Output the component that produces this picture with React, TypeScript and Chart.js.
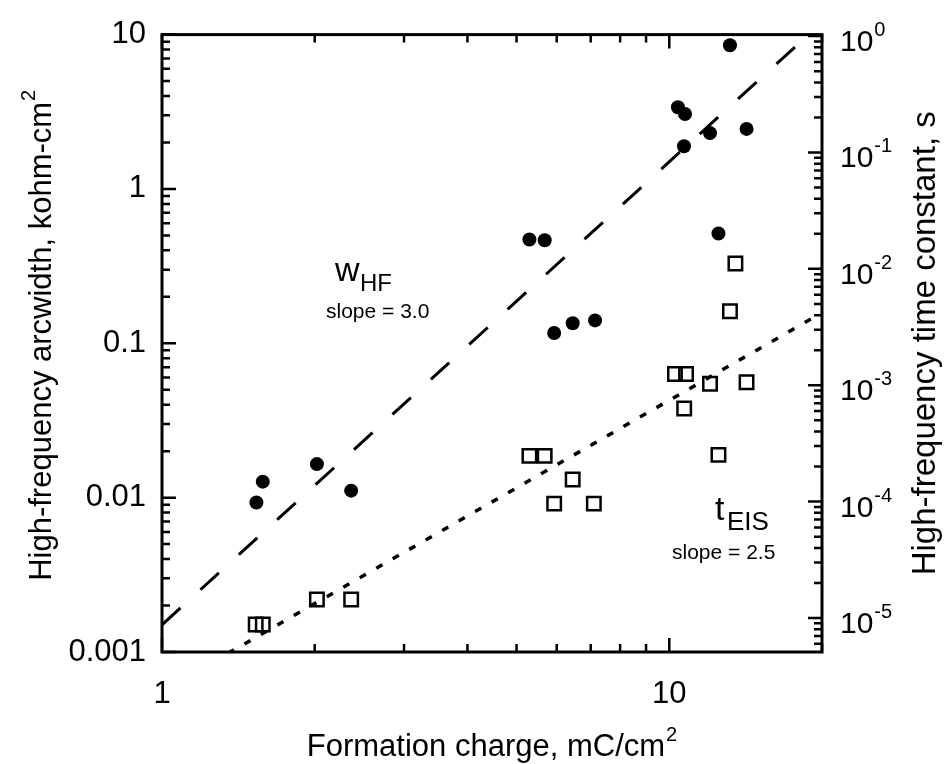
import React, { useEffect, useRef } from 'react';
import { Chart, registerables } from 'chart.js';

Chart.register(...registerables);

// ---- data ----
// high-frequency arcwidth w_HF (left axis, kohm-cm^2)
const chargeW = [1.535, 1.58, 2.02, 2.36, 5.3, 5.68, 5.93, 6.45, 7.14, 10.4, 10.74, 10.69, 12.03, 12.5, 13.17, 14.2];
const arcWidth = [0.0093, 0.0127, 0.0165, 0.0111, 0.47, 0.465, 0.1165, 0.135, 0.1407, 3.38, 3.06, 1.89, 2.3, 0.515, 8.53, 2.45];
// high-frequency time constant t_EIS (right axis, s)
const chargeT = [1.53, 1.58, 2.02, 2.36, 5.3, 5.68, 5.93, 6.45, 7.1, 10.26, 10.79, 10.7, 12.03, 12.5, 13.17, 13.5, 14.2];
const timeConst = [8.8e-6, 8.8e-6, 1.44e-5, 1.44e-5, 2.47e-4, 2.47e-4, 9.6e-5, 1.55e-4, 9.6e-5, 1.25e-3, 1.25e-3, 6.3e-4, 1.03e-3, 2.52e-4, 4.32e-3, 1.11e-2, 1.06e-3];
// power-law fits (end points)
const fitCharge = [1, 20];
const fitW = [0.0015, 12.0]; // slope = 3.0
const fitT = [2.35e-6, 4.2e-3]; // slope = 2.5

// ---- axes ----
const xRange = [1, 20];
const yRange = [0.001, 10];
const y2Range = [5.1e-6, 1.03];
const xTickLabels = ['1', '10'];
const yTickLabels = ['0.001', '0.01', '0.1', '1', '10'];
const y2TickExps = ['-5', '-4', '-3', '-2', '-1', '0'];

const FONT = '"Liberation Sans", Arial, Helvetica, sans-serif';

function logTicks(min: number, max: number) {
  const out: { v: number; major: boolean }[] = [];
  const e0 = Math.floor(Math.log10(min));
  const e1 = Math.ceil(Math.log10(max));
  for (let e = e0; e <= e1; e++) {
    for (let m = 1; m <= 9; m++) {
      const v = m * Math.pow(10, e);
      if (v >= min * 0.9999 && v <= max * 1.0001) out.push({ v, major: m === 1 });
    }
  }
  return out;
}

function isPow10(v: number) {
  const l = Math.log10(v);
  return Math.abs(l - Math.round(l)) < 1e-6;
}

function textWithSup(ctx: CanvasRenderingContext2D, base: string, sup: string, x: number, y: number, size: number, supSize: number, rise: number, align: 'center' | 'left') {
  ctx.font = `${size}px ${FONT}`;
  const wb = ctx.measureText(base).width;
  ctx.font = `${supSize}px ${FONT}`;
  const ws = ctx.measureText(sup).width;
  const start = align === 'center' ? x - (wb + ws + 1) / 2 : x;
  ctx.textAlign = 'left';
  ctx.textBaseline = 'alphabetic';
  ctx.font = `${size}px ${FONT}`;
  ctx.fillText(base, start, y);
  ctx.font = `${supSize}px ${FONT}`;
  ctx.fillText(sup, start + wb + 1, y - rise);
}

const decorPlugin = {
  id: 'decor',
  afterDraw(chart: any) {
    const { ctx, chartArea: a, scales } = chart;
    const xs = scales.x, ys = scales.y, y2s = scales.y2;
    ctx.save();
    ctx.strokeStyle = '#000';
    ctx.fillStyle = '#000';
    ctx.lineCap = 'butt';
    const MAJ = 14, MIN = 8;
    ctx.lineWidth = 2.5;
    ctx.beginPath();
    for (const t of logTicks(xRange[0], xRange[1])) {
      const px = xs.getPixelForValue(t.v);
      const len = t.major ? MAJ : MIN;
      ctx.moveTo(px, a.bottom); ctx.lineTo(px, a.bottom - len);
      ctx.moveTo(px, a.top); ctx.lineTo(px, a.top + len);
    }
    for (const t of logTicks(yRange[0], yRange[1])) {
      const py = ys.getPixelForValue(t.v);
      const len = t.major ? MAJ : MIN;
      ctx.moveTo(a.left, py); ctx.lineTo(a.left + len, py);
    }
    for (const t of logTicks(y2Range[0], y2Range[1])) {
      const py = y2s.getPixelForValue(t.v);
      const len = t.major ? MAJ : MIN;
      ctx.moveTo(a.right, py); ctx.lineTo(a.right - len, py);
    }
    ctx.stroke();
    ctx.lineWidth = 3;
    ctx.strokeRect(a.left, a.top, a.right - a.left, a.bottom - a.top);

    // right tick labels 10^n
    y2TickExps.forEach((e) => {
      const py = y2s.getPixelForValue(Math.pow(10, Number(e)));
      textWithSup(ctx, '10', e, a.right + 18, py + 15, 30, 20, 15, 'left');
    });

    // axis titles
    textWithSup(ctx, 'Formation charge, mC/cm', '2', (a.left + a.right) / 2, 756, 31, 20, 15, 'center');
    ctx.save();
    ctx.translate(51, (a.top + a.bottom) / 2 - 8);
    ctx.rotate(-Math.PI / 2);
    textWithSup(ctx, 'High-frequency arcwidth, kohm-cm', '2', 0, 0, 31, 20, 16, 'center');
    ctx.restore();
    ctx.save();
    ctx.translate(935, (a.top + a.bottom) / 2);
    ctx.rotate(-Math.PI / 2);
    ctx.font = `33px ${FONT}`;
    ctx.textAlign = 'center';
    ctx.textBaseline = 'alphabetic';
    ctx.fillText('High-frequency time constant, s', 0, 0);
    ctx.restore();

    // annotations
    ctx.textAlign = 'left';
    ctx.textBaseline = 'alphabetic';
    ctx.font = `34px ${FONT}`;
    ctx.fillText('w', 335, 281);
    ctx.font = `24px ${FONT}`;
    ctx.fillText('HF', 360, 291);
    ctx.font = `21px ${FONT}`;
    ctx.fillText('slope = 3.0', 326, 318);
    ctx.font = `34px ${FONT}`;
    ctx.fillText('t', 715, 520);
    ctx.font = `26px ${FONT}`;
    ctx.fillText('EIS', 727, 530);
    ctx.font = `21px ${FONT}`;
    ctx.fillText('slope = 2.5', 672, 559);
    ctx.restore();
  },
};

export default function App() {
  const ref = useRef<HTMLCanvasElement>(null);
  useEffect(() => {
    if (!ref.current) return;
    const chart = new Chart(ref.current, {
      type: 'scatter',
      data: {
        datasets: [
          {
            label: 'w_HF',
            data: chargeW.map((x, i) => ({ x, y: arcWidth[i] })),
            yAxisID: 'y',
            pointStyle: 'circle',
            pointRadius: 7,
            pointBorderWidth: 0,
            backgroundColor: '#000',
            borderColor: '#000',
          },
          {
            label: 't_EIS',
            data: chargeT.map((x, i) => ({ x, y: timeConst[i] })),
            yAxisID: 'y2',
            pointStyle: 'rect',
            pointRadius: 9.5,
            pointBorderWidth: 2.5,
            backgroundColor: 'rgba(0,0,0,0)',
            borderColor: '#000',
          },
          {
            label: 'fit w',
            data: fitCharge.map((x, i) => ({ x, y: fitW[i] })),
            yAxisID: 'y',
            showLine: true,
            pointRadius: 0,
            borderColor: '#000',
            borderWidth: 3,
            borderDash: [25, 27],
            borderCapStyle: 'butt',
          },
          {
            label: 'fit t',
            data: fitCharge.map((x, i) => ({ x, y: fitT[i] })),
            yAxisID: 'y2',
            showLine: true,
            pointRadius: 0,
            borderColor: '#000',
            borderWidth: 3.5,
            borderDash: [7, 12],
            borderCapStyle: 'butt',
          },
        ],
      },
      options: {
        responsive: false,
        animation: false,
        layout: { padding: { top: 32, left: 0, right: 0, bottom: 0 } },
        plugins: { legend: { display: false }, tooltip: { enabled: false } },
        scales: {
          x: {
            type: 'logarithmic',
            min: xRange[0],
            max: xRange[1],
            grid: { display: false, drawTicks: false },
            border: { display: false },
            ticks: {
              autoSkip: false,
              maxRotation: 0,
              padding: 24,
              color: '#000',
              font: { family: FONT, size: 31 },
              callback: (v: any) => {
                const n = Number(v);
                if (!isPow10(n)) return '';
                return xTickLabels[Math.round(Math.log10(n))] ?? '';
              },
            },
            afterFit: (s: any) => { s.height = 112; },
          },
          y: {
            type: 'logarithmic',
            position: 'left',
            min: yRange[0],
            max: yRange[1],
            grid: { display: false, drawTicks: false },
            border: { display: false },
            ticks: {
              autoSkip: false,
              padding: 16,
              color: '#000',
              font: { family: FONT, size: 31 },
              callback: (v: any) => {
                const n = Number(v);
                if (!isPow10(n)) return '';
                return yTickLabels[Math.round(Math.log10(n)) + 3] ?? '';
              },
            },
            afterFit: (s: any) => { s.width = 162; },
          },
          y2: {
            type: 'logarithmic',
            position: 'right',
            min: y2Range[0],
            max: y2Range[1],
            grid: { display: false, drawTicks: false },
            border: { display: false },
            ticks: { display: false },
            afterFit: (s: any) => { s.width = 123; },
          },
        },
      },
      plugins: [decorPlugin],
    });
    return () => chart.destroy();
  }, []);
  return (
    <div style={{ position: 'absolute', left: 0, top: 0, width: 945, height: 764, background: '#fff' }}>
      <canvas ref={ref} width={945} height={764} style={{ display: 'block' }} />
    </div>
  );
}
